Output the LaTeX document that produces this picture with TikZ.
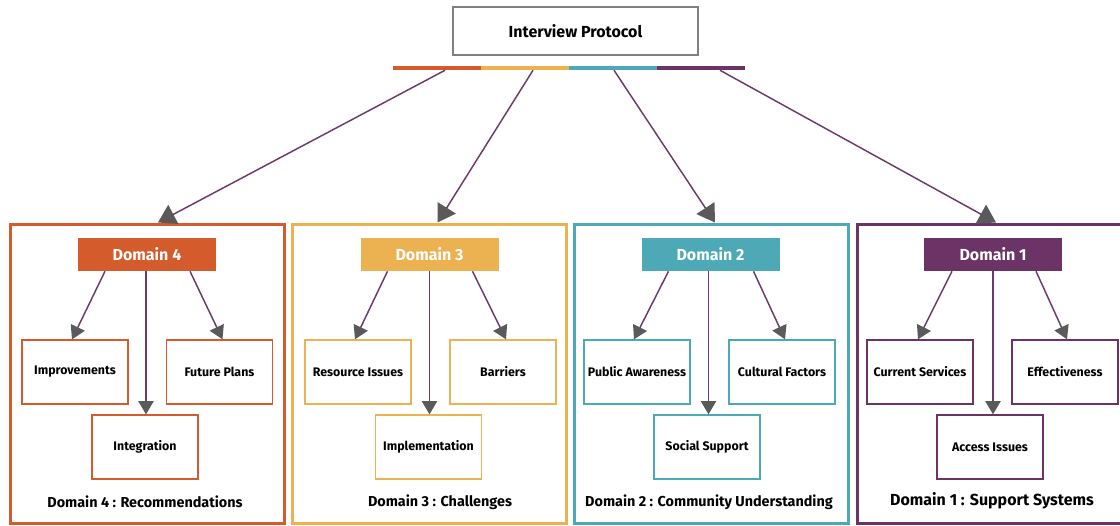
\documentclass[tikz,border=0pt]{standalone}
\usepackage{fontspec}
\setmainfont{Fira Sans}
\usetikzlibrary{positioning, calc}
\usetikzlibrary{arrows.meta}
\definecolor{dorange}{HTML}{D45B2B}
\definecolor{dyellow}{HTML}{ECB252}
\definecolor{dteal}{HTML}{4EA9B7}
\definecolor{dpurple}{HTML}{6C3466}
\definecolor{linkpurple}{HTML}{6D3A6C}
\definecolor{tipgray}{HTML}{5A5A5A}
\definecolor{boxgray}{HTML}{808080}

\begin{document}
\begin{tikzpicture}[x=0.75pt,y=-0.75pt,
		panel/.style={draw, line width=2.25pt, minimum width=205.5pt, minimum height=224.25pt, inner sep=0pt},
		header/.style={minimum width=103.5pt, minimum height=24.75pt, inner sep=0pt, text=white, font=\fontsize{12}{14}\selectfont\bfseries},
		topic/.style={draw, line width=1pt, minimum width=79.5pt, minimum height=48pt, inner sep=0pt, font=\fontsize{9.3}{11}\selectfont\bfseries},
		caption/.style={font=\fontsize{10.8}{13}\selectfont\bfseries},
		bar/.style={minimum width=66pt, minimum height=3pt, inner sep=0pt},
		link/.style={linkpurple, line width=1.1pt, -{Triangle[length=10pt,width=11.5pt,color=tipgray]}},
		branch/.style={linkpurple, line width=1.1pt, -{Triangle[length=13pt,width=16pt,color=tipgray]}}]
		\fill[white] (0,0) rectangle (1120,525);
		\clip (0,0) rectangle (1120,525);
		
		\node[draw=boxgray, line width=1pt, minimum width=183.75pt, minimum height=36pt, font=\fontsize{12}{14}\selectfont\bfseries] (protocol) at (575.5,31) {Interview Protocol};
		
		\node[bar, fill=dorange] (bar 4) at (437,68) {};
		\node[bar, fill=dyellow] (bar 3) at (525,68) {};
		\node[bar, fill=dteal]   (bar 2) at (613,68) {};
		\node[bar, fill=dpurple] (bar 1) at (701,68) {};
		
		% Domain 4
		\node[panel, draw=dorange] (panel 4) at (147,373.5) {};
		\node[header, fill=dorange] (domain 4) at (147,254.5) {Domain 4};
		\node[topic, draw=dorange] (improvements) at (75,372) {Improvements};
		\node[topic, draw=dorange] (future plans) at (219.5,372) {Future Plans};
		\node[topic, draw=dorange] (integration) at (145,447) {Integration};
		\node[caption] (caption 4) at (145,502) {Domain 4 : Recommendations};
		\draw[link] ($(domain 4.south)+(-42,0)$) -- ($(improvements.north)+(-3,0)$);
		\draw[link] ($(domain 4.south)+(-1,0)$) -- ($(integration.north)+(1,0)$);
		\draw[link] ($(domain 4.south)+(43,0)$) -- ($(future plans.north)+(3,0)$);
		
		% Domain 3
		\node[panel, draw=dyellow] (panel 3) at (429.5,373.5) {};
		\node[header, fill=dyellow] (domain 3) at (429.5,254.5) {Domain 3};
		\node[topic, draw=dyellow] (resource issues) at (358,372) {Resource Issues};
		\node[topic, draw=dyellow] (barriers) at (503,372) {Barriers};
		\node[topic, draw=dyellow] (implementation) at (428.5,447) {Implementation};
		\node[caption] (caption 3) at (440,502) {Domain 3 : Challenges};
		\draw[link] ($(domain 3.south)+(-42,0)$) -- ($(resource issues.north)+(-3,0)$);
		\draw[link] ($(domain 3.south)+(0,0)$) -- ($(implementation.north)+(1,0)$);
		\draw[link] ($(domain 3.south)+(43,0)$) -- ($(barriers.north)+(3,0)$);
		
		% Domain 2
		\node[panel, draw=dteal] (panel 2) at (711,373.5) {};
		\node[header, fill=dteal] (domain 2) at (710.5,254.5) {Domain 2};
		\node[topic, draw=dteal] (public awareness) at (637,372) {Public Awareness};
		\node[topic, draw=dteal] (cultural factors) at (782,372) {Cultural Factors};
		\node[topic, draw=dteal] (social support) at (707,447) {Social Support};
		\node[caption] (caption 2) at (709,502) {Domain 2 : Community Understanding};
		\draw[link] ($(domain 2.south)+(-42,0)$) -- ($(public awareness.north)+(-3,0)$);
		\draw[link] ($(domain 2.south)+(-2,0)$) -- ($(social support.north)+(1.5,0)$);
		\draw[link] ($(domain 2.south)+(43,0)$) -- ($(cultural factors.north)+(3,0)$);
		
		% Domain 1
		\node[panel, draw=dpurple] (panel 1) at (994,373.5) {};
		\node[header, fill=dpurple] (domain 1) at (993,254.5) {Domain 1};
		\node[topic, draw=dpurple] (current services) at (920,372) {Current Services};
		\node[topic, draw=dpurple] (effectiveness) at (1065,372) {Effectiveness};
		\node[topic, draw=dpurple] (access issues) at (990,447) {Access Issues};
		\node[caption, font=\fontsize{12}{14}\selectfont\bfseries] (caption 1) at (992,501) {Domain 1 : Support Systems};
		\draw[link] ($(domain 1.south)+(-41,0)$) -- ($(current services.north)+(-2,0)$);
		\draw[link] ($(domain 1.south)+(0,0)$) -- ($(access issues.north)+(3,0)$);
		\draw[link] ($(domain 1.south)+(43,0)$) -- ($(effectiveness.north)+(2,0)$);
		
		% protocol to domains
		\draw[branch] ($(bar 4.south)+(8,0)$) -- ($(panel 4.north)+(11,0)$);
		\draw[branch] ($(bar 3.south)+(8,0)$) -- ($(panel 3.north)+(8,0)$);
		\draw[branch] ($(bar 2.south)+(1,0)$) -- ($(panel 2.north)+(4,0)$);
		\draw[branch] ($(bar 1.south)+(19,0)$) -- ($(panel 1.north)+(2,0)$);
		
	\end{tikzpicture}
\end{document}
